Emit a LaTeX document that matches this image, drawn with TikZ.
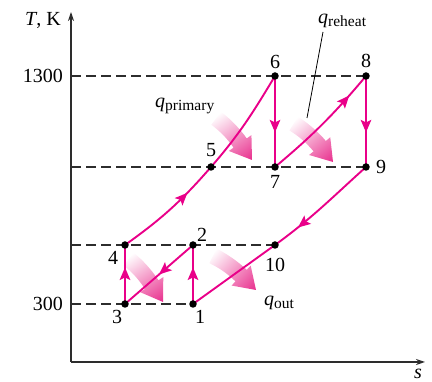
\documentclass[tikz,border=0pt]{standalone}
\usepackage{fontspec}
\setmainfont{Liberation Serif}
\usetikzlibrary{arrows.meta,decorations.markings}
\definecolor{mag}{RGB}{233,0,137}
\definecolor{heat}{RGB}{232,45,140}
\definecolor{axisgray}{RGB}{45,45,45}
\newcommand\qlab[1]{\textit{q}\raisebox{-0.15em}{\fontsize{15.5}{16}\selectfont #1}}
\newcommand\heatarrow[3]{%
  \begin{scope}[transform canvas={shift={(#1,#2)},rotate=#3,scale=1.15}]
    \shade[left color=white,middle color=heat!45,right color=heat]
      (0,0) -- (-18,-12) -- (-18,-7)
      .. controls (-28,-7) and (-35.9,-8.3) .. (-45.4,-11.4)
      -- (-49.8,1.96)
      .. controls (-40.3,5.1) and (-28,7) .. (-18,7)
      -- (-18,12) -- cycle;
  \end{scope}}
\begin{document}
\begin{tikzpicture}[x=1pt,y=1pt,
  font=\fontsize{20}{22}\selectfont,
  dot/.style={circle,fill=black,inner sep=0pt,minimum size=7.5pt},
  lab/.style={inner sep=0pt},
  cyc/.style={color=mag,line width=1.9pt},
  guide/.style={draw=axisgray,line width=1.1pt,dash pattern=on 10pt off 5pt},
  axisline/.style={draw=axisgray,line width=1.3pt,-{Stealth[length=9pt,width=6pt]}},
  midarrow/.style={postaction={decorate},decoration={markings,mark=at position #1 with {\arrow{Stealth[length=12.5pt,width=10.5pt,inset=2.5pt]}}}},
]
\useasboundingbox (0,0) rectangle (432,382);

% state points
\coordinate (p1) at (193,78);
\coordinate (p2) at (193,137);
\coordinate (p3) at (125,78);
\coordinate (p4) at (125,137);
\coordinate (p5) at (211,215);
\coordinate (p6) at (275,306);
\coordinate (p7) at (275,215);
\coordinate (p8) at (366,306);
\coordinate (p9) at (366,215);
\coordinate (p10) at (275,137);

% axes
\coordinate (O) at (71,20);
\coordinate (ytop) at (71,370);
\coordinate (xend) at (425,20);
\draw[axisline] (O) -- (ytop);
\draw[axisline] (O) -- (xend);

% guide lines
\coordinate (a1300) at (71,306);
\coordinate (a5) at (71,215);
\coordinate (a4) at (71,137);
\coordinate (a300) at (71,78);
\draw[guide] (a1300) -- (p8);
\draw[guide] (a5) -- (p9);
\draw[guide] (a4) -- (p10);
\draw[guide] (a300) -- (p1);

% heat arrows
\heatarrow{252}{222}{-55}
\heatarrow{333}{220}{-50}
\heatarrow{163}{80}{-57}
\heatarrow{256}{92}{-44}

% cycle
\draw[cyc,midarrow=0.62] (p3) -- (p4);
\draw[cyc,midarrow=0.7] (p4) to[out=35.5,in=229] (p5);
\draw[cyc] (p5) to[out=49,in=239] (p6);
\draw[cyc,midarrow=0.62] (p6) -- (p7);
\draw[cyc,midarrow=0.8] (p7) to[out=40,in=230] (p8);
\draw[cyc,midarrow=0.62] (p8) -- (p9);
\draw[cyc,midarrow=0.76] (p9) to[out=222,in=36] (p10);
\draw[cyc] (p10) -- (p1);
\draw[cyc,midarrow=0.62] (p1) -- (p2);
\draw[cyc,midarrow=0.5] (p2) -- (p3);

% dots
\foreach \i in {1,...,10} \node[dot] (n\i) at (p\i) {};

% point labels
\node[lab] (l1) at (200,65) {1};
\node[lab] (l2) at (202,147) {2};
\node[lab] (l3) at (117,65) {3};
\node[lab] (l4) at (113,124) {4};
\node[lab] (l5) at (211,232) {5};
\node[lab] (l6) at (275,320) {6};
\node[lab] (l7) at (275,200) {7};
\node[lab] (l8) at (366,321) {8};
\node[lab] (l9) at (381,215) {9};
\node[lab] (l10) at (275,117) {10};

% axis labels
\node[lab] (tk) at (43,362) {\textit{T}, K};
\node[lab,anchor=east] (t1300) at (63,306) {1300};
\node[lab,anchor=east] (t300) at (63,78) {300};
\node[lab,anchor=base] (sl) at (418,3.5) {\textit{s}};

% heat labels
\node[lab,anchor=base west] (qp) at (155,274) {\qlab{primary}};
\node[lab,anchor=base west] (qr) at (318,358) {\qlab{reheat}};
\node[lab,anchor=base west] (qo) at (264,76) {\qlab{out}};
\coordinate (lead1) at (323,350);
\coordinate (lead2) at (307,264);
\draw[black,line width=0.8pt] (lead1) -- (lead2);
\end{tikzpicture}
\end{document}
